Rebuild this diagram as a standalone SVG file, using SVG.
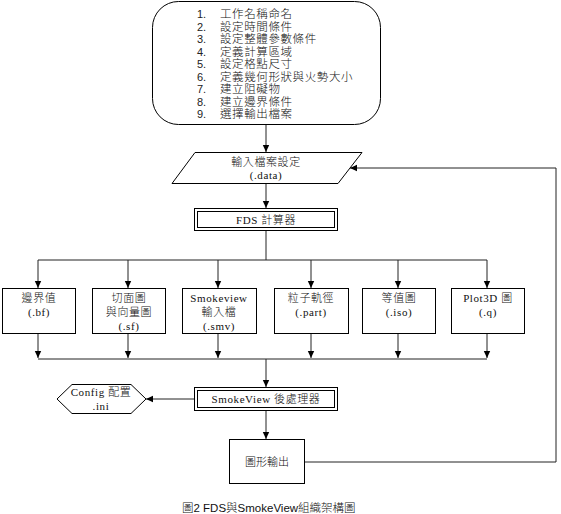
<svg xmlns="http://www.w3.org/2000/svg" width="561" height="514" viewBox="0 0 561 514">
<defs>
<marker id="ah" markerWidth="8" markerHeight="8" refX="7" refY="4" orient="auto" markerUnits="userSpaceOnUse">
<path d="M0,0.8 L7,4 L0,7.2 Z" fill="#000"/>
</marker>
<style>
.box{fill:#fff;stroke:#000;stroke-width:1}
.ln{fill:none;stroke:#222;stroke-width:1}
.t{font-family:"Liberation Serif","Noto Sans CJK TC",serif;font-size:11px;fill:#111;text-anchor:middle;letter-spacing:0.6px;font-weight:300}
.c{font-family:"Liberation Sans","Noto Sans CJK TC",sans-serif;font-size:11px;fill:#111;font-weight:300}
.n{font-family:"Liberation Sans",sans-serif;font-size:11px;fill:#222}
</style>
</defs>
<rect width="561" height="514" fill="#fff"/>

<g id="connectors">
<path class="ln" d="M266,125 V152" marker-end="url(#ah)"/>
<path class="ln" d="M266,183 V208" marker-end="url(#ah)"/>
<path class="ln" d="M266,230 V260"/>
<path class="ln" d="M38,260 H487"/>
<path class="ln" d="M38,260 V288" marker-end="url(#ah)"/>
<path class="ln" d="M128,260 V288" marker-end="url(#ah)"/>
<path class="ln" d="M218,260 V288" marker-end="url(#ah)"/>
<path class="ln" d="M311,260 V288" marker-end="url(#ah)"/>
<path class="ln" d="M398,260 V288" marker-end="url(#ah)"/>
<path class="ln" d="M487,260 V288" marker-end="url(#ah)"/>
<path class="ln" d="M38,333 V358" marker-end="url(#ah)"/>
<path class="ln" d="M128,333 V358" marker-end="url(#ah)"/>
<path class="ln" d="M218,333 V358" marker-end="url(#ah)"/>
<path class="ln" d="M311,333 V358" marker-end="url(#ah)"/>
<path class="ln" d="M398,333 V358" marker-end="url(#ah)"/>
<path class="ln" d="M487,333 V358" marker-end="url(#ah)"/>
<path class="ln" d="M38,359 H487"/>
<path class="ln" d="M266,359 V387" marker-end="url(#ah)"/>
<path class="ln" d="M194,399 H146" marker-end="url(#ah)"/>
<path class="ln" d="M266,410 V439" marker-end="url(#ah)"/>
<path class="ln" d="M304,462 H556 V168 H350" marker-end="url(#ah)"/>
</g>

<g id="steps">
<rect class="box" x="152.5" y="1.5" width="228" height="123" rx="26" ry="26" stroke="#444"/>
<g class="n">
<text x="197" y="18">1.</text>
<text x="197" y="30.5">2.</text>
<text x="197" y="43">3.</text>
<text x="197" y="55.5">4.</text>
<text x="197" y="68">5.</text>
<text x="197" y="80.5">6.</text>
<text x="197" y="93">7.</text>
<text x="197" y="105.5">8.</text>
<text x="197" y="118">9.</text>
</g>
<g class="c" style="font-size:11.5px;letter-spacing:0.6px">
<text x="220" y="18">工作名稱命名</text>
<text x="220" y="30.5">設定時間條件</text>
<text x="220" y="43">設定整體參數條件</text>
<text x="220" y="55.5">定義計算區域</text>
<text x="220" y="68">設定格點尺寸</text>
<text x="220" y="80.5">定義幾何形狀與火勢大小</text>
<text x="220" y="93">建立阻礙物</text>
<text x="220" y="105.5">建立邊界條件</text>
<text x="220" y="118">選擇輸出檔案</text>
</g>
</g>

<g id="input">
<polygon class="box" points="195,152.5 362,152.5 338,183.5 172,183.5"/>
<text class="t" x="266" y="166">輸入檔案設定</text>
<text class="t" x="266" y="179">(.data)</text>
</g>

<g id="fds">
<rect class="box" x="194.5" y="208.5" width="143" height="22"/>
<rect class="box" x="197.5" y="211.5" width="137" height="16"/>
<text class="t" x="266" y="224">FDS 計算器</text>
</g>

<g id="bf">
<rect class="box" x="2.5" y="288.5" width="73" height="45"/>
<text class="t" x="39" y="302">邊界值</text>
<text class="t" x="39" y="316">(.bf)</text>
</g>
<g id="sf">
<rect class="box" x="92.5" y="288.5" width="73" height="45"/>
<text class="t" x="129" y="302">切面圖</text>
<text class="t" x="129" y="316">與向量圖</text>
<text class="t" x="129" y="330">(.sf)</text>
</g>
<g id="smv">
<rect class="box" x="182.5" y="288.5" width="74" height="45"/>
<text class="t" x="219" y="302">Smokeview</text>
<text class="t" x="219" y="316">輸入檔</text>
<text class="t" x="219" y="330">(.smv)</text>
</g>
<g id="part">
<rect class="box" x="274.5" y="288.5" width="74" height="45"/>
<text class="t" x="311" y="302">粒子軌徑</text>
<text class="t" x="311" y="316">(.part)</text>
</g>
<g id="iso">
<rect class="box" x="362.5" y="288.5" width="73" height="45"/>
<text class="t" x="399" y="302">等值圖</text>
<text class="t" x="399" y="316">(.iso)</text>
</g>
<g id="q">
<rect class="box" x="451.5" y="288.5" width="73" height="45"/>
<text class="t" x="488" y="302">Plot3D 圖</text>
<text class="t" x="488" y="316">(.q)</text>
</g>

<g id="smokeview">
<rect class="box" x="194.5" y="387.5" width="143" height="23"/>
<rect class="box" x="197.5" y="390.5" width="137" height="17"/>
<text class="t" x="266" y="403">SmokeView 後處理器</text>
</g>

<g id="config">
<polygon class="box" points="57,399 72,384.5 131,384.5 146,399 131,413.5 72,413.5" stroke="#555"/>
<text class="t" x="101" y="396">Config 配置</text>
<text class="t" x="101" y="410">.ini</text>
</g>

<g id="output">
<rect class="box" x="229.5" y="439.5" width="75" height="44"/>
<text class="c" x="267" y="466" text-anchor="middle">圖形輸出</text>
</g>

<text class="c" x="182" y="512" style="font-size:11.5px">圖2 FDS與SmokeView組織架構圖</text>
</svg>
